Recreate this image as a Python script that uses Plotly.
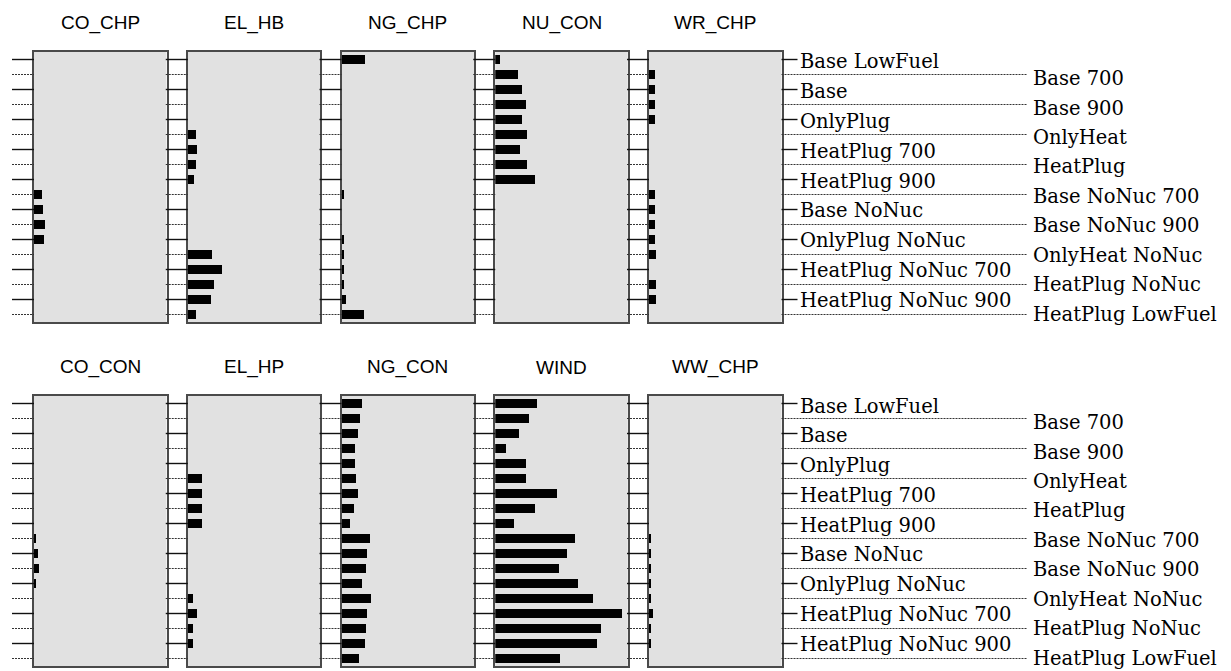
import plotly.graph_objects as go

categories = ["Base LowFuel", "Base 700", "Base", "Base 900", "OnlyPlug", "OnlyHeat",
              "HeatPlug 700", "HeatPlug", "HeatPlug 900", "Base NoNuc 700", "Base NoNuc",
              "Base NoNuc 900", "OnlyPlug NoNuc", "OnlyHeat NoNuc", "HeatPlug NoNuc 700",
              "HeatPlug NoNuc", "HeatPlug NoNuc 900", "HeatPlug LowFuel"]

panel_titles = ["CO_CHP", "EL_HB", "NG_CHP", "NU_CON", "WR_CHP",
                "CO_CON", "EL_HP", "NG_CON", "WIND", "WW_CHP"]

CO_CHP = [0, 0, 0, 0, 0, 0, 0, 0, 0, 5.8, 7.0, 8.3, 7.3, 0, 0, 0, 0, 0]
EL_HB = [0, 0, 0, 0, 0, 5.8, 6.8, 5.8, 4.8, 0, 0, 0, 0, 18.2, 25.5, 19.4, 17.4, 5.8]
NG_CHP = [17.2, 0, 0, 0, 0, 0, 0, 0, 0, 1.5, 0, 0, 1.5, 1.5, 1.5, 1.2, 2.7, 16.7]
NU_CON = [3.4, 17.2, 20.2, 23.3, 20.2, 24.5, 19.2, 24.5, 30.5, 0, 0, 0, 0, 0, 0, 0, 0, 0]
WR_CHP = [0, 4.3, 4.3, 4.3, 4.3, 0, 0, 0, 0, 4.2, 4.2, 4.2, 4.3, 5.1, 0, 5.1, 5.1, 0]
CO_CON = [0, 0, 0, 0, 0, 0, 0, 0, 0, 1.5, 3.0, 4.0, 1.7, 0, 0, 0, 0, 0]
EL_HP = [0, 0, 0, 0, 0, 10.8, 10.8, 10.8, 10.8, 0, 0, 0, 0, 3.7, 6.8, 3.7, 3.7, 0]
NG_CON = [15.2, 13.9, 11.9, 9.8, 9.8, 10.8, 11.9, 8.9, 5.8, 21.2, 19.2, 18.2, 15.2,
          22.2, 19.2, 18.2, 17.2, 13.1]
WIND = [31.6, 25.5, 18.2, 8.1, 23.3, 23.3, 47.0, 30.5, 14.2, 60.4, 54.3, 48.0, 62.3,
        73.7, 95.5, 79.8, 76.7, 49.0]
WW_CHP = [0, 0, 0, 0, 0, 0, 0, 0, 0, 1.0, 1.0, 1.0, 1.0, 1.7, 2.7, 1.7, 1.7, 0]

series = [CO_CHP, EL_HB, NG_CHP, NU_CON, WR_CHP, CO_CON, EL_HP, NG_CON, WIND, WW_CHP]

W, H = 1231, 671
n = len(categories)
idx = list(range(n))

panel_left = [34, 187.75, 341.5, 495.25, 649]
panel_w = 132.5
row_top = [52, 396]
row_h = 270

fig = go.Figure()
shapes = []
annotations = []
label_font = dict(family="DejaVu Serif", size=19.5, color="black")

for k, (title, vals) in enumerate(zip(panel_titles, series)):
    r, c = divmod(k, 5)
    s = "" if k == 0 else str(k + 1)
    xd = [panel_left[c] / W, (panel_left[c] + panel_w) / W]
    yd = [1 - (row_top[r] + row_h) / H, 1 - row_top[r] / H]
    fig.add_trace(go.Bar(x=vals, y=idx, orientation="h", width=0.55,
                         marker=dict(color="black", line=dict(width=0)),
                         xaxis="x" + s, yaxis="y" + s, showlegend=False,
                         hoverinfo="skip"))
    axstyle = dict(showgrid=False, zeroline=False, showticklabels=False, ticks="",
                   showline=True, mirror=True, linecolor="#4a4a4a", linewidth=1.5,
                   fixedrange=True)
    fig.update_layout(**{
        "xaxis" + s: dict(domain=xd, range=[0, 100], anchor="y" + s, **axstyle),
        "yaxis" + s: dict(domain=yd, range=[n - 0.5, -0.5], anchor="x" + s, **axstyle),
    })
    # left tick marks
    for i in idx:
        solid = i % 2 == 0
        shapes.append(dict(type="line", xref="x" + s + " domain", yref="y" + s,
                           x0=-22 / panel_w, x1=0, y0=i, y1=i,
                           line=dict(color="#111" if solid else "#333",
                                     width=1.4 if solid else 1.1,
                                     dash="solid" if solid else "2px,1px")))
    # title
    annotations.append(dict(text=title, xref="paper", yref="paper",
                            x=(panel_left[c] + panel_w / 2) / W,
                            y=1 - (row_top[r] - 29) / H,
                            showarrow=False, xanchor="center", yanchor="middle",
                            font=dict(family="Liberation Sans, Arial", size=19, color="black")))
    # right labels for last column
    if c == 4:
        for i, lab in enumerate(categories):
            solid = i % 2 == 0
            frac = i / (n - 1)
            if solid:
                shapes.append(dict(type="line", xref="x" + s + " domain", yref="y" + s,
                                   x0=1, x1=1 + 16 / panel_w, y0=i, y1=i,
                                   line=dict(color="#111", width=1.4)))
                annotations.append(dict(text=lab, xref="paper", yref="y" + s,
                                        x=798 / W, y=i, xanchor="left", yanchor="middle",
                                        yshift=-2.5 + 2 * frac, showarrow=False,
                                        font=label_font))
            else:
                shapes.append(dict(type="line", xref="x" + s + " domain", yref="y" + s,
                                   x0=1, x1=1 + (1027 - 781.5) / panel_w, y0=i, y1=i,
                                   line=dict(color="#333", width=1.1, dash="2px,1px")))
                annotations.append(dict(text=lab, xref="paper", yref="y" + s,
                                        x=1031 / W, y=i, xanchor="left", yanchor="middle",
                                        yshift=-4.5 + 5 * frac, showarrow=False,
                                        font=label_font))

fig.update_layout(width=W, height=H, margin=dict(l=0, r=0, t=0, b=0),
                  paper_bgcolor="white", plot_bgcolor="#e1e1e1",
                  shapes=shapes, annotations=annotations, bargap=0)

fig.write_html("out.html")
